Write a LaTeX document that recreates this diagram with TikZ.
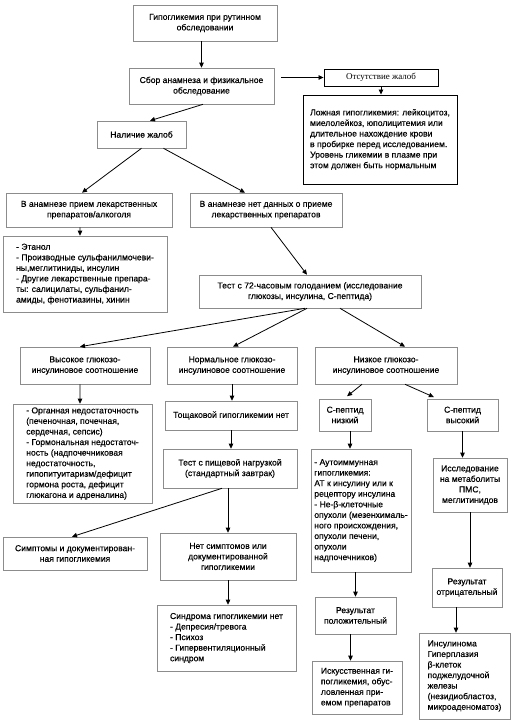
\documentclass[tikz,border=0pt]{standalone}
\usepackage{fontspec}
\setmainfont[FakeBold=0.35]{Liberation Sans}
\newfontfamily\serifrm{Liberation Serif}
\usetikzlibrary{arrows.meta,calc}
\newcommand\boxnode[7]{%
  \pgfmathsetmacro\bxw{#4-#2}\pgfmathsetmacro\bxh{#5-#3}%
  \pgfmathsetmacro\bxcx{(#2+#4)/2}\pgfmathsetmacro\bxcy{(#3+#5)/2}%
  \node[#6,minimum width=\bxw bp,minimum height=\bxh bp] (#1) at (\bxcx,\bxcy) {#7};}
\begin{document}
\begin{tikzpicture}[x=1bp,y=-1bp,
  box/.style={draw=black!45, line width=0.6bp, inner xsep=3bp, inner ysep=2bp, align=center, font=\fontsize{8.6}{10.6}\selectfont},
  boxl/.style={box, align=left},
  dark/.style={draw=black, line width=0.9bp},
  arr/.style={-{Triangle[length=5bp,width=4.5bp]}, line width=0.8bp, black}]
\useasboundingbox[fill=white] (0,0) rectangle (531,725);
\boxnode{n1}{133}{5}{277}{41}{box}{Гипогликемия при рутинном\\обследовании}
\boxnode{n2}{129}{68}{274}{104}{box}{Сбор анамнеза и физикальное\\обследование}
\boxnode{n3}{324}{69}{438}{86}{box,dark,font=\serifrm\fontsize{9}{10}\selectfont}{Отсутствие жалоб}
\boxnode{n4}{303}{95}{457}{184}{boxl,dark}{Ложная гипогликемия: лейкоцитоз,\\миелолейкоз, юполицитемия или\\длительное нахождение крови\\в пробирке перед исследованием.\\Уровень гликемии в плазме при\\этом должен быть нормальным}
\boxnode{n5}{97}{121}{186}{148}{box}{Наличие жалоб}
\boxnode{n6}{6}{193}{172}{227}{box}{В анамнезе прием лекарственных\\препаратов/алкоголя}
\boxnode{n7}{190}{193}{342}{227}{box}{В анамнезе нет данных о приеме\\лекарственных препаратов}
\boxnode{n8}{3}{236}{167}{312}{boxl}{- Этанол\\- Производные сульфанилмочеви-\\ны,меглитиниды, инсулин\\- Другие лекарственные препара-\\ты: салицилаты, сульфанил-\\амиды, фенотиазины, хинин}
\boxnode{n9}{199}{275}{421}{308}{box}{Тест с 72-часовым голоданием (исследование\\глюкозы, инсулина, С-пептида)}
\boxnode{n10}{20}{347}{150}{384}{box}{Высокое глюкозо-\\инсулиновое соотношение}
\boxnode{n11}{167}{347}{297}{384}{box}{Нормальное глюкозо-\\инсулиновое соотношение}
\boxnode{n12}{315}{347}{457}{384}{box}{Низкое глюкозо-\\инсулиновое соотношение}
\boxnode{n13}{319}{399}{371}{431}{box}{С-пептид\\низкий}
\boxnode{n14}{427}{399}{498}{431}{box}{С-пептид\\высокий}
\boxnode{n15}{165}{401}{297}{430}{box}{Тощаковой гипогликемии нет}
\boxnode{n16}{13}{404}{152}{503}{boxl}{- Органная недостаточность\\(печеночная, почечная,\\сердечная, сепсис)\\- Гормональная недостаточ-\\ность (надпочечниковая\\недостаточность,\\гипопитуитаризм/дефицит\\гормона роста, дефицит\\глюкагона и адреналина)}
\boxnode{n17}{163}{449}{297}{488}{box}{Тест с пищевой нагрузкой\\(стандартный завтрак)}
\boxnode{n18}{311}{449}{411}{572}{boxl}{- Аутоиммунная\\гипогликемия:\\АТ к инсулину или к\\рецептору инсулина\\- Не-β-клеточные\\опухоли (мезенхималь-\\ного происхождения,\\опухоли печени,\\опухоли\\надпочечников)}
\boxnode{n19}{433}{458}{507}{512}{box}{Исследование\\на метаболиты\\ПМС,\\меглитинидов}
\boxnode{n20}{3}{537}{147}{570}{box}{Симптомы и документирован-\\ная гипогликемия}
\boxnode{n21}{160}{533}{296}{580}{box}{Нет симптомов или\\документированной\\гипогликемии}
\boxnode{n22}{432}{568}{502}{607}{box}{Результат\\отрицательный}
\boxnode{n23}{315}{597}{396}{634}{box}{Результат\\положительный}
\boxnode{n24}{157}{605}{296}{671}{boxl}{Синдрома гипогликемии нет\\- Депресия/тревога\\- Психоз\\- Гипервентиляционный\\синдром}
\boxnode{n25}{312}{661}{402}{714}{boxl}{Искусственная ги-\\погликемия, обус-\\ловленная при-\\емом препаратов}
\boxnode{n26}{419}{633}{510}{719}{boxl}{Инсулинома\\Гиперплазия\\β-клеток\\поджелудочной\\железы\\(незидиобластоз,\\микроаденоматоз)}
% connectors
\draw[arr] (n1.south -| n2.north) -- (n2.north);
\draw[arr] ($(n2.east |- n3.west)+(7,0)$) -- (n3.west);
\draw[arr] (n3.south) -- (n3.south |- n4.north);
\draw[arr] ([xshift=1.5bp]n2.south) -- ([xshift=8.5bp]n5.north);
\draw[arr] (n5.south) -- ([xshift=-7bp]n6.north);
\draw[arr] ([xshift=22bp]n5.south) -- ([xshift=-21bp]n7.north);
\draw[arr] ([xshift=-9bp]n6.south) -- ([xshift=-5bp]n8.north);
\draw[arr] ([xshift=5bp]n7.south) -- ([xshift=-3bp]n9.north);
\draw[arr] ([xshift=-5bp]n9.south) -- ([xshift=-5bp]n10.north);
\draw[arr] ([xshift=-3bp]n9.south) -- ([xshift=1bp]n11.north);
\draw[arr] ([xshift=30bp]n9.south) -- ([xshift=19bp]n12.north);
\draw[arr] ([xshift=-5bp]n10.south) -- ([xshift=-2.5bp]n16.north);
\draw[arr] (n11.south) -- (n11.south |- n15.north);
\draw[arr, shorten >=4bp] ([xshift=-24bp]n12.south) -- ([xshift=-1bp]n13.north);
\draw[arr, shorten >=4bp] ([xshift=19bp]n12.south) -- ([xshift=-25bp]n14.north);
\draw[arr] ($(n13.south)+(5,0)$) -- ($(n13.south |- n18.north)+(5,0)$);
\draw[arr] (n14.south) -- (n14.south |- n19.north);
\draw[arr] (n15.south) -- (n15.south |- n17.north);
\draw[arr] ([xshift=-8bp]n17.south) -- ([xshift=-3bp]n20.north);
\draw[arr] (n17.south -| n21.north) -- (n21.north);
\draw[arr] (n23.north |- n18.south) -- (n23.north);
\draw[arr] (n19.south) -- (n19.south |- n22.north);
\draw[arr] (n21.south) -- (n21.south |- n24.north);
\draw[arr] ($(n23.south)+(-5,0)$) -- ($(n23.south |- n25.north)+(-5,0)$);
\draw[arr] ($(n22.south)+(-11,0)$) -- ($(n22.south |- n26.north)+(-11,0)$);
\end{tikzpicture}
\end{document}
